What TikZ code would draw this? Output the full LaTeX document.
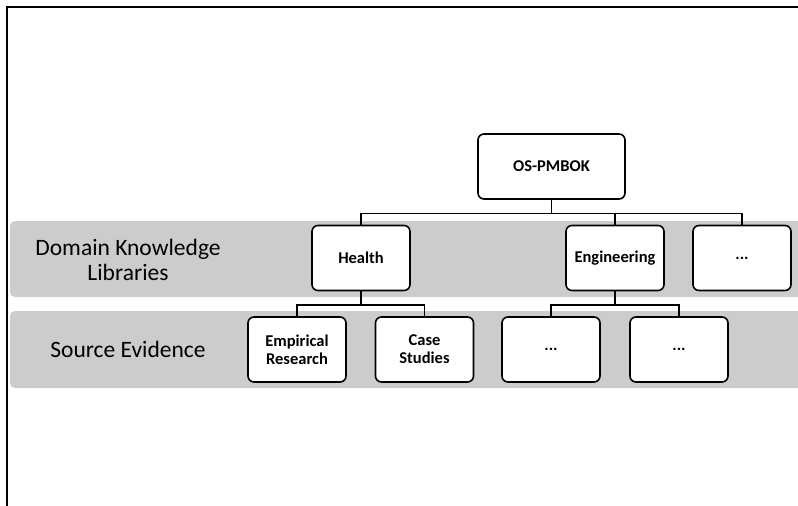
\documentclass[tikz,border=0pt]{standalone}
\usepackage{fontspec}
\setmainfont{Carlito}
\usetikzlibrary{positioning}

\definecolor{bandgray}{RGB}{204,204,204}

\tikzset{
  box/.style={draw, line width=1.6pt, rounded corners=6pt, fill=white,
    minimum width=98pt, minimum height=65pt, align=center, inner sep=2pt,
    font=\fontsize{16.5}{18}\selectfont\bfseries},
  bandlabel/.style={align=center, font=\fontsize{23.5}{25}\selectfont},
  band/.style={fill=bandgray, rounded corners=5pt},
  link/.style={line width=1.6pt}
}

\begin{document}
\begin{tikzpicture}[x=1pt, y=-1pt]
\useasboundingbox (0,0) rectangle (798,506);
\clip (0,0) rectangle (798,506);
% frame
\draw[line width=2pt] (7,506) -- (7,7) -- (800,7);
% bands
\fill[band] (10,221) rectangle (812,297);
\fill[band] (10,311) rectangle (812,388);
\node[bandlabel] (dkl) at (128,260) {Domain Knowledge\\Libraries};
\node[bandlabel] (se) at (128,349) {Source Evidence};
% tree
\node[box, minimum width=147pt] (pmbok) at (551.5,166.5) {OS-PMBOK};
\node[box] (health) at (361,258) {Health};
\node[box] (eng) at (615,258) {Engineering};
\node[box] (more) at (742,258) {...};
\node[box] (emp) at (297,349.5) {Empirical\\Research};
\node[box] (case) at (424.5,349.5) {Case\\Studies};
\node[box] (ev1) at (551,349.5) {...};
\node[box] (ev2) at (679,349.5) {...};
\draw[link] (pmbok.south) -- ++(0,13.5) -| (health.north);
\draw[link] (pmbok.south) -- ++(0,13.5) -| (eng.north);
\draw[link] (pmbok.south) -- ++(0,13.5) -| (more.north);
\draw[link] (health.south) -- ++(0,13.5) -| (emp.north);
\draw[link] (health.south) -- ++(0,13.5) -| (case.north);
\draw[link] (eng.south) -- ++(0,13.5) -| (ev1.north);
\draw[link] (eng.south) -- ++(0,13.5) -| (ev2.north);
\end{tikzpicture}
\end{document}
